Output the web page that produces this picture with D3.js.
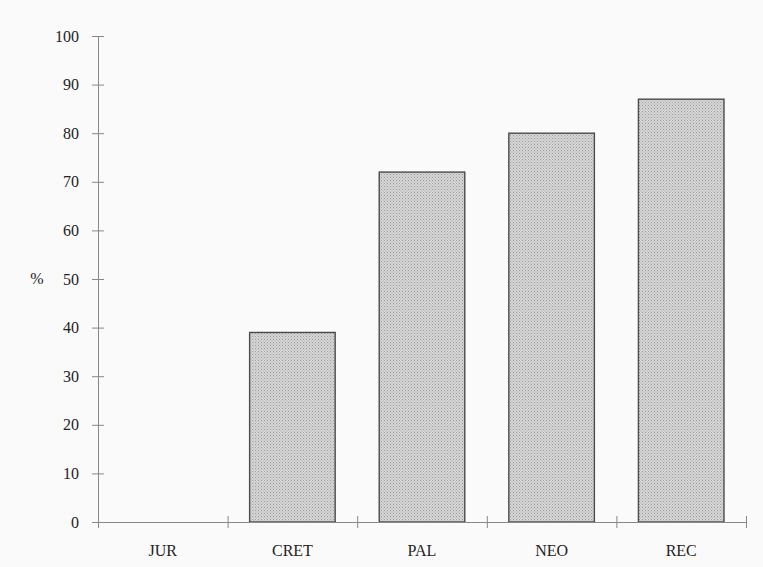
<!DOCTYPE html>
<html>
<head>
<meta charset="utf-8">
<script src="https://cdn.jsdelivr.net/npm/d3@7"></script>
<style>
  body { margin: 0; background: #fafafa; }
  text { font-family: "Liberation Serif", "Times New Roman", serif; fill: #222; }
</style>
</head>
<body>
<div id="chart"></div>
<script>
var periods = ["JUR", "CRET", "PAL", "NEO", "REC"];
var percent = [0, 39, 72, 80, 87];
var yTicks = [0, 10, 20, 30, 40, 50, 60, 70, 80, 90, 100];

var width = 763, height = 567;
var margin = { top: 36, right: 17, bottom: 45, left: 98 };

var svg = d3.select("#chart").append("svg")
    .attr("width", width)
    .attr("height", height);

svg.append("rect").attr("width", width).attr("height", height).attr("fill", "#fafafa");

// stipple pattern for the bars
var defs = svg.append("defs");
var pat = defs.append("pattern")
    .attr("id", "stipple")
    .attr("patternUnits", "userSpaceOnUse")
    .attr("width", 3).attr("height", 3);
pat.append("rect").attr("width", 3).attr("height", 3).attr("fill", "#d6d6d6");
pat.append("rect").attr("x", 0).attr("y", 0).attr("width", 1).attr("height", 1).attr("fill", "#9c9c9c");
pat.append("rect").attr("x", 1.5).attr("y", 1.5).attr("width", 1).attr("height", 1).attr("fill", "#a8a8a8");

var x = d3.scaleBand()
    .domain(periods)
    .range([margin.left, width - margin.right])
    .paddingInner(0.34)
    .paddingOuter(0.17);

var xb = d3.scaleLinear()
    .domain([0, periods.length])
    .range([margin.left, width - margin.right]);

var y = d3.scaleLinear()
    .domain([0, 100])
    .range([height - margin.bottom, margin.top]);

// bars
svg.append("g").selectAll("rect")
    .data(periods.map((p, i) => ({ p: p, v: percent[i] })).filter(d => d.v > 0))
    .enter().append("rect")
    .attr("x", d => x(d.p))
    .attr("y", d => y(d.v))
    .attr("width", x.bandwidth())
    .attr("height", d => y(0) - y(d.v))
    .attr("fill", "url(#stipple)")
    .attr("stroke", "#4a4a4a")
    .attr("stroke-width", 1.4);

// y axis
var yAxis = svg.append("g")
    .attr("transform", `translate(${margin.left},0)`)
    .call(d3.axisLeft(y).tickValues(yTicks).tickSize(0).tickPadding(19));
yAxis.select(".domain").attr("stroke", "#888");
yAxis.selectAll(".tick line").attr("x1", -6).attr("x2", 6).attr("stroke", "#888");
yAxis.selectAll("text").style("font-size", "16px").attr("fill", "#222");

// x axis with boundary ticks
var xAxis = svg.append("g")
    .attr("transform", `translate(0,${y(0)})`)
    .call(d3.axisBottom(xb).tickValues(d3.range(0, periods.length + 1)).tickSize(0).tickFormat(""));
xAxis.select(".domain").attr("stroke", "#888");
xAxis.selectAll(".tick line").attr("y1", -6).attr("y2", 6).attr("stroke", "#888");

svg.append("g").selectAll("text")
    .data(periods)
    .enter().append("text")
    .attr("x", d => x(d) + x.bandwidth() / 2)
    .attr("y", y(0) + 34)
    .attr("text-anchor", "middle")
    .style("font-size", "16px")
    .text(d => d);

svg.append("text")
    .attr("x", 37)
    .attr("y", y(50) + 5)
    .attr("text-anchor", "middle")
    .style("font-size", "16px")
    .text("%");
</script>
</body>
</html>
